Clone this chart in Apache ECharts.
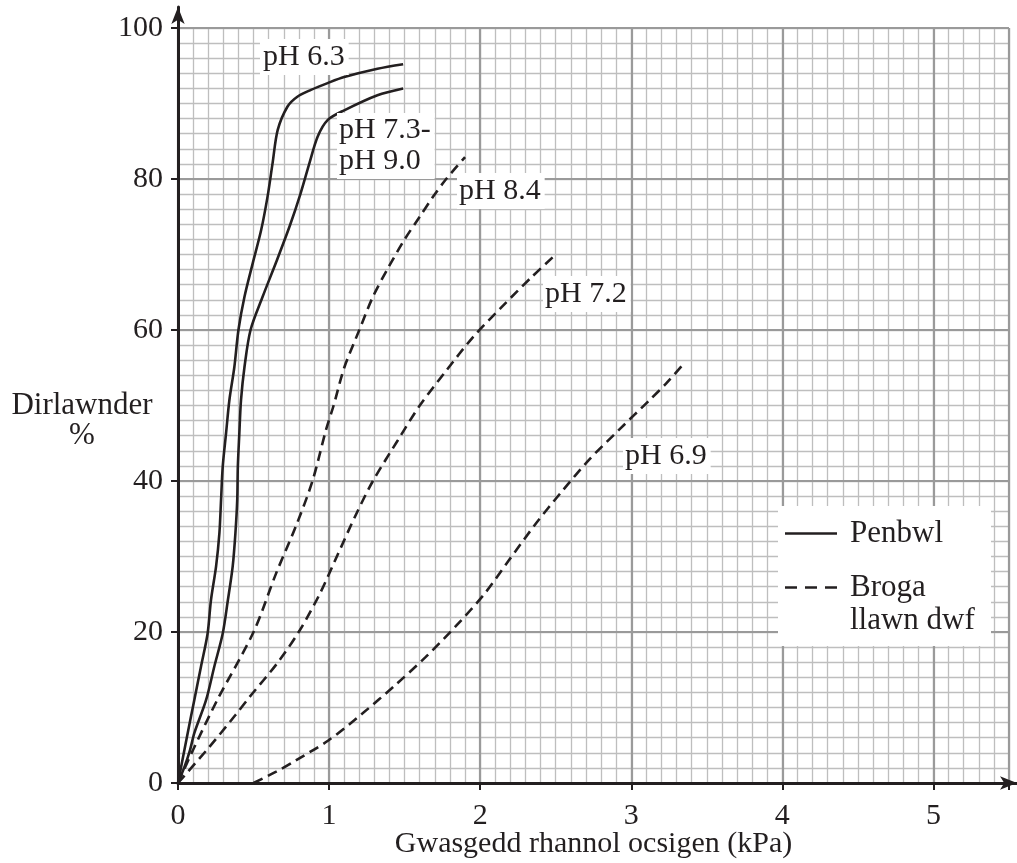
<!DOCTYPE html>
<html><head><meta charset="utf-8">
<script src="https://cdn.jsdelivr.net/npm/echarts@6/dist/echarts.min.js"></script>
<style>html,body{margin:0;padding:0;background:#fff}#c{width:1017px;height:863px}</style>
</head><body><div id="c"></div>
<script>
// ---- data ----
const xTicks = [0, 1, 2, 3, 4, 5];
const yTicks = [0, 20, 40, 60, 80, 100];
const xTitle = 'Gwasgedd rhannol ocsigen (kPa)';
const yTitle = '\nDirlawnder\n%';
const legendNames = ['Penbwl', 'Broga', 'llawn dwf'];
const curveLabels = ['pH 6.3', 'pH 7.3-\npH 9.0', 'pH 8.4', 'pH 7.2', 'pH 6.9'];

// Penbwl (tadpole) - solid
const penbwl_pH63 = [[0,0],[0.064,6.6],[0.108,11],[0.152,15.4],[0.196,19.8],[0.218,24.2],[0.252,28.7],[0.274,33.1],[0.285,37.5],[0.296,41.9],[0.318,46.3],[0.34,50.7],[0.373,55.1],[0.4,60],[0.44,64.4],[0.494,68.8],[0.55,73.2],[0.593,77.7],[0.626,82.1],[0.66,86.5],[0.725,89.6],[0.79,90.9],[0.88,91.8],[0.99,92.7],[1.1,93.5],[1.32,94.6],[1.49,95.2]];
const penbwl_pH73_90 = [[0,0],[0.044,2.2],[0.08,4.4],[0.108,6.6],[0.186,11],[0.24,15.4],[0.296,19.8],[0.33,24.2],[0.362,28.7],[0.38,33.1],[0.392,37.5],[0.396,41.9],[0.406,46.3],[0.417,50.7],[0.44,55.1],[0.48,60],[0.56,64.4],[0.65,69],[0.74,73.8],[0.81,78],[0.87,82.1],[0.924,85.6],[0.99,87.8],[1.1,89.1],[1.32,91.1],[1.49,92]];
// Broga llawn dwf (adult frog) - dashed
const broga_pH84 = [[0,0],[0.1,4.4],[0.26,11],[0.5,20],[0.65,27.8],[0.78,34],[0.89,40],[0.98,46.8],[1.03,50],[1.1,55],[1.2,60],[1.29,64.4],[1.39,68.2],[1.5,72],[1.6,75],[1.69,77.7],[1.775,80],[1.9,82.9]];
const broga_pH72 = [[0,0],[0.2,4.6],[0.38,9],[0.474,11.4],[0.662,16],[0.805,20.2],[0.937,25],[1.058,30.3],[1.179,35.6],[1.29,40],[1.455,45.4],[1.6,50],[1.775,54.6],[1.95,59],[2.14,63],[2.34,67],[2.5,70]];
const broga_pH69 = [[0.5,0],[0.65,1.5],[0.78,3],[1.0,5.7],[1.22,9.2],[1.44,13],[1.64,16.7],[1.84,20.8],[2.03,25.1],[2.19,29.5],[2.37,34.4],[2.54,38.6],[2.72,42.8],[2.92,46.8],[3.12,50.7],[3.23,52.9],[3.35,55.6]];

// ---- style ----
const INK = '#231f20';
const FONT = "'Liberation Serif', 'DejaVu Serif', serif";
const solidIcon = 'path://M0,0H52V2.6H0Z';
const dashIcon = 'path://M0,0H12V2.6H0Z M20,0H32V2.6H20Z M40,0H52V2.6H40Z';

function lineSeries(name, data, dashed) {
  return {
    type: 'line', name: name, data: data, xAxisIndex: 0, yAxisIndex: 0,
    showSymbol: false, symbol: 'none', smooth: 0.3, z: 5,
    lineStyle: { color: INK, width: 2.6, type: dashed ? [10, 6] : 'solid', cap: 'butt' },
    itemStyle: { color: INK }
  };
}

const chart = echarts.init(document.getElementById('c'), null, { renderer: 'canvas' });
const textBase = { fontFamily: FONT, color: INK };

chart.setOption({
  animation: false,
  backgroundColor: '#fff',
  grid: [
    { left: 178, right: 8, top: 28, bottom: 80, containLabel: false, outerBoundsMode: 'none' },
    { left: 178, right: 0, top: 7, bottom: 80, containLabel: false, outerBoundsMode: 'none' }
  ],
  xAxis: [
    { gridIndex: 0, type: 'value', min: 0, max: 5.5, interval: 1, z: 1,
      axisLine: { show: false },
      axisTick: { show: true, length: 7, lineStyle: { color: INK, width: 2 } },
      axisLabel: Object.assign({ fontSize: 30, margin: 18,
        formatter: v => xTicks.includes(v) ? String(v) : '' }, textBase),
      splitLine: { show: true, lineStyle: { color: '#9a9a9a', width: 2.2 } },
      name: xTitle, nameLocation: 'middle', nameGap: 46, nameMoveOverlap: false,
      nameTextStyle: Object.assign({ fontSize: 30 }, textBase) },
    { gridIndex: 0, type: 'value', min: 0, max: 5.5, interval: 0.1, z: 0,
      axisLine: { show: false }, axisTick: { show: false }, axisLabel: { show: false },
      splitLine: { show: true, lineStyle: { color: '#bebebe', width: 1.3 } } },
    { gridIndex: 1, type: 'value', min: 0, max: 1, z: 3,
      axisLine: { show: true, onZero: false, symbol: ['none', 'arrow'], symbolSize: [10, 17],
        lineStyle: { color: INK, width: 3 } },
      axisTick: { show: false }, axisLabel: { show: false }, splitLine: { show: false } }
  ],
  yAxis: [
    { gridIndex: 0, type: 'value', min: 0, max: 100, interval: 20, z: 1,
      axisLine: { show: false },
      axisTick: { show: true, length: 7, lineStyle: { color: INK, width: 2 } },
      axisLabel: Object.assign({ fontSize: 30, margin: 15,
        formatter: v => yTicks.includes(v) ? String(v) : '' }, textBase),
      splitLine: { show: true, lineStyle: { color: '#9a9a9a', width: 2.2 } },
      name: yTitle, nameLocation: 'middle', nameRotate: 0, nameGap: 96, nameMoveOverlap: false,
      nameTextStyle: Object.assign({ fontSize: 31, lineHeight: 30, align: 'center',
        verticalAlign: 'middle' }, textBase) },
    { gridIndex: 0, type: 'value', min: 0, max: 100, interval: 2, z: 0,
      axisLine: { show: false }, axisTick: { show: false }, axisLabel: { show: false },
      splitLine: { show: true, lineStyle: { color: '#bebebe', width: 1.3 } } },
    { gridIndex: 1, type: 'value', min: 0, max: 1, z: 3,
      axisLine: { show: true, onZero: false, symbol: ['none', 'arrow'], symbolSize: [10, 17],
        lineStyle: { color: INK, width: 3 } },
      axisTick: { show: false }, axisLabel: { show: false }, splitLine: { show: false } }
  ],
  legend: [
    { orient: 'vertical', left: 778, top: 506, padding: [12, 48, 97, 7],
      backgroundColor: '#fff', itemWidth: 52, itemHeight: 2.6, selectedMode: false, z: 10,
      itemStyle: { borderWidth: 0 },
      textStyle: Object.assign({ fontSize: 31, lineHeight: 30, padding: [0, 0, 0, 8] }, textBase),
      data: [{ name: legendNames[0], icon: solidIcon }] },
    { orient: 'vertical', left: 785, top: 572, padding: 0,
      itemWidth: 52, itemHeight: 2.6, selectedMode: false, z: 11,
      itemStyle: { borderWidth: 0 },
      textStyle: Object.assign({ fontSize: 31, lineHeight: 30, padding: [0, 0, 0, 8] }, textBase),
      data: [{ name: legendNames[1], icon: dashIcon }] },
    { orient: 'vertical', left: 785, top: 605, padding: 0,
      itemWidth: 52, itemHeight: 2.6, selectedMode: false, z: 11,
      itemStyle: { borderWidth: 0, opacity: 0 },
      textStyle: Object.assign({ fontSize: 31, lineHeight: 30, padding: [0, 0, 0, 8] }, textBase),
      data: [{ name: legendNames[2], icon: 'rect' }] }
  ],
  graphic: [
    { type: 'text', x: 260, y: 57, z: 50, style: { text: curveLabels[0], font: '30px ' + FONT, fill: INK, verticalAlign: 'middle', backgroundColor: '#fff', padding: [3, 4, 3, 3] } },
    { type: 'text', x: 337, y: 113, z: 50, style: { text: curveLabels[1], font: '30px ' + FONT, fill: INK, verticalAlign: 'top', lineHeight: 31, backgroundColor: '#fff', padding: [2, 4, 2, 2] } },
    { type: 'text', x: 457, y: 191, z: 50, style: { text: curveLabels[2], font: '30px ' + FONT, fill: INK, verticalAlign: 'middle', backgroundColor: '#fff', padding: [3, 4, 3, 2] } },
    { type: 'text', x: 543, y: 294, z: 50, style: { text: curveLabels[3], font: '30px ' + FONT, fill: INK, verticalAlign: 'middle', backgroundColor: '#fff', padding: [3, 4, 3, 2] } },
    { type: 'text', x: 623, y: 456, z: 50, style: { text: curveLabels[4], font: '30px ' + FONT, fill: INK, verticalAlign: 'middle', backgroundColor: '#fff', padding: [3, 4, 3, 2] } }
  ],
  series: [
    lineSeries(legendNames[0], penbwl_pH63, false),
    lineSeries(legendNames[0], penbwl_pH73_90, false),
    lineSeries(legendNames[1], broga_pH84, true),
    lineSeries(legendNames[1], broga_pH72, true),
    lineSeries(legendNames[1], broga_pH69, true),
    { type: 'line', name: legendNames[2], data: [], xAxisIndex: 0, yAxisIndex: 0,
      lineStyle: { color: 'rgba(0,0,0,0)' }, itemStyle: { color: 'rgba(0,0,0,0)' } }
  ]
});
</script></body></html>
